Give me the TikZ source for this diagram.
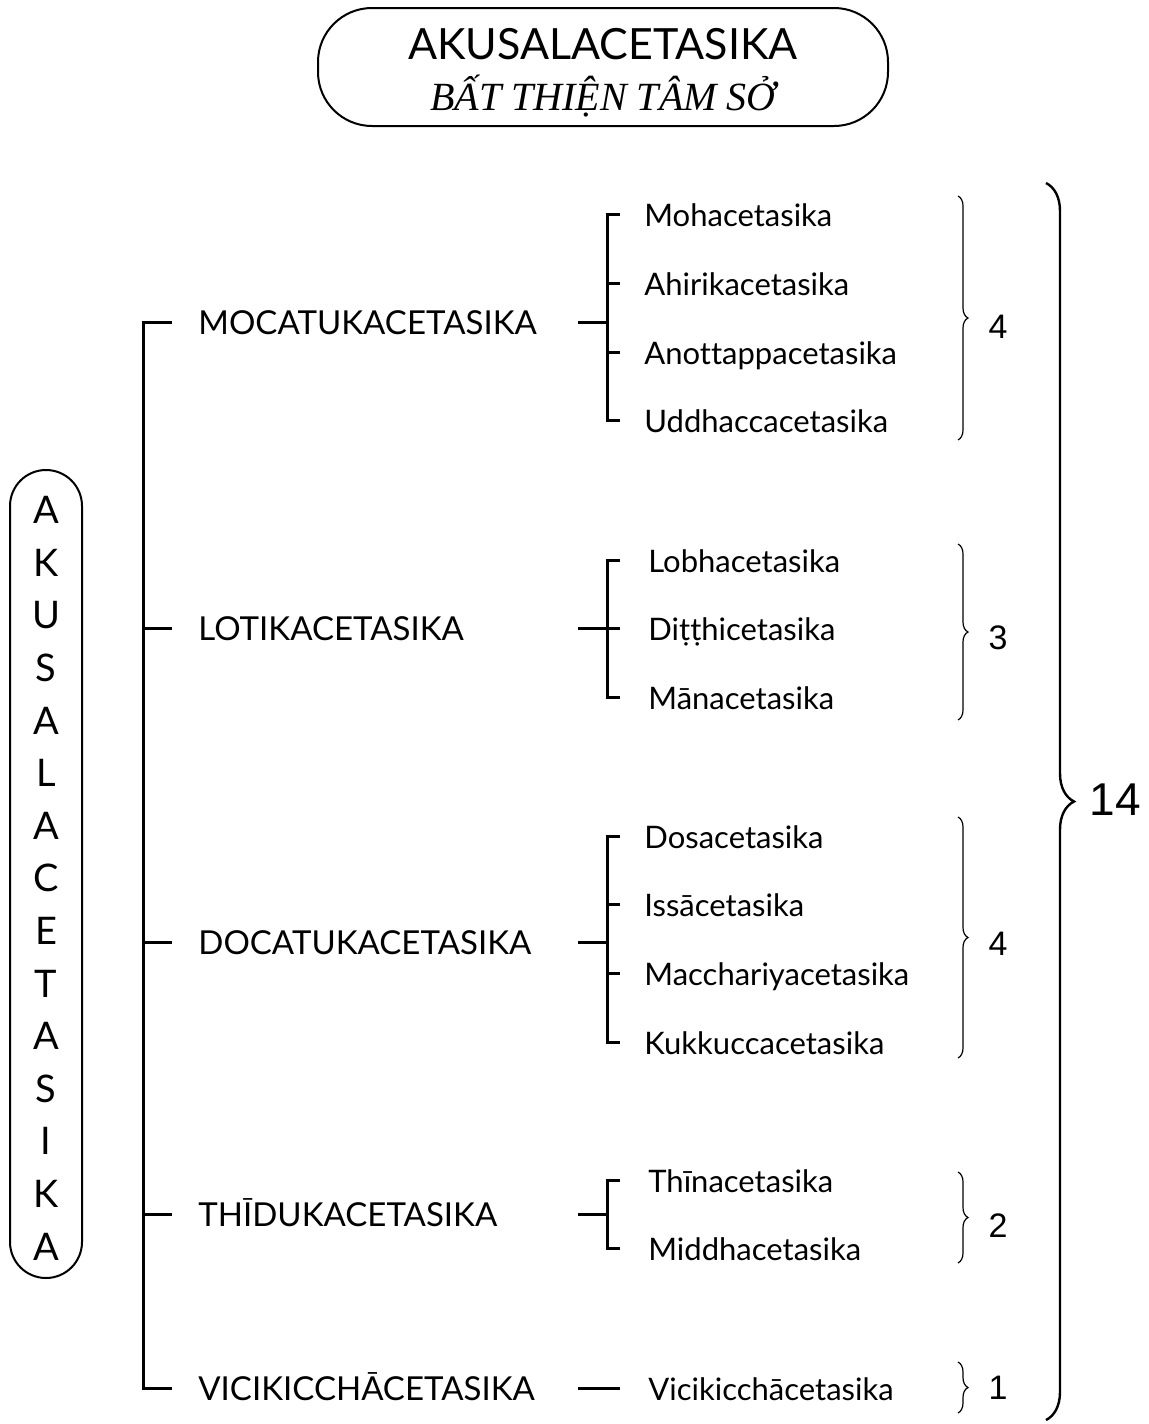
\documentclass[tikz,border=0pt]{standalone}
\usepackage{fontspec}
\setmainfont{Lato}[Ligatures=NoCommon]
\newfontfamily\numfont{Liberation Sans}
\newfontfamily\handfont{Liberation Serif}
\usetikzlibrary{positioning,decorations.pathreplacing}

\begin{document}
\begin{tikzpicture}[x=0.5pt,y=-0.5pt,
    line/.style={line width=1.5pt},
    head/.style={anchor=west,inner sep=0pt,text height=12pt,text depth=0pt,font=\fontsize{16.5}{18}\selectfont},
    item/.style={anchor=west,inner sep=0pt,text height=12.5pt,text depth=0pt,font=\fontsize{15.5}{17}\selectfont},
    num/.style={font=\numfont\fontsize{17}{19}\selectfont},
    grp/.style={decorate,decoration={brace,amplitude=5pt},line width=0.6pt},
    vletter/.style={font=\fontsize{19}{20}\selectfont,inner sep=0pt}]
  \useasboundingbox (0,0) rectangle (1149,1424);

  % title
  \node[draw,line width=1pt,rounded corners=27pt,minimum width=285pt,minimum height=59pt] (title) at (603,67) {};
  \node[font=\fontsize{21.5}{23}\selectfont] (ttl1) at (603,44) {AKUSALACETASIKA};
  \node[font=\handfont\itshape\fontsize{20}{22}\selectfont] (ttl2) at (603,96) {BẤT THIỆN TÂM SỞ};

  % vertical box
  \node[draw,line width=1pt,rounded corners=18pt,minimum width=36pt,minimum height=404pt] (side) at (46,874) {};
  \foreach \c [count=\i from 0] in {A,K,U,S,A,L,A,C,E,T,A,S,I,K,A}
    \node[vletter] (v\i) at (46,{510+52.6*\i}) {\c};

  % first level
  \node[head] (moca) at (198,322) {MOCATUKACETASIKA};
  \node[head] (loti) at (198,628) {LOTIKACETASIKA};
  \node[head] (doca) at (198,942) {DOCATUKACETASIKA};
  \node[head] (thid) at (198,1214) {THĪDUKACETASIKA};
  \node[head] (vici) at (198,1388) {VICIKICCHĀCETASIKA};
  \coordinate (s1) at (143,322); \coordinate (s2) at (143,628); \coordinate (s3) at (143,942);
  \coordinate (s4) at (143,1214); \coordinate (s5) at (143,1388);
  \draw[line] ([xshift=-13pt]moca.west) -- (s1) -- (s5) -- ([xshift=-13pt]vici.west);
  \draw[line] (s2) -- ([xshift=-13pt]loti.west);
  \draw[line] (s3) -- ([xshift=-13pt]doca.west);
  \draw[line] (s4) -- ([xshift=-13pt]thid.west);

  % second level
  \node[item] (moha) at (644,214) {Mohacetasika};
  \node[item] (ahir) at (644,283) {Ahirikacetasika};
  \node[item] (anot) at (644,352) {Anottappacetasika};
  \node[item] (uddh) at (644,420) {Uddhaccacetasika};
  \node[item] (lobh) at (648,560) {Lobhacetasika};
  \node[item] (ditt) at (648,628) {Diṭṭhicetasika};
  \node[item] (mana) at (648,697) {Mānacetasika};
  \node[item] (dosa) at (644,836) {Dosacetasika};
  \node[item] (issa) at (644,904) {Issācetasika};
  \node[item] (macc) at (644,973) {Macchariyacetasika};
  \node[item] (kukk) at (644,1042) {Kukkuccacetasika};
  \node[item] (thin) at (648,1180) {Thīnacetasika};
  \node[item] (midd) at (648,1248) {Middhacetasika};
  \node[item] (vic2) at (648,1388) {Vicikicchācetasika};

  \coordinate (r1) at (578,322); \coordinate (b1) at (607,322);
  \coordinate (r2) at (578,628);
  \coordinate (r3) at (578,942); \coordinate (b3) at (607,942);
  \coordinate (r4) at (578,1214); \coordinate (b4) at (607,1214);
  \coordinate (r5) at (578,1388);

  \draw[line] ([xshift=-12pt]moha.west) -| (607,420) -- ([xshift=-12pt]uddh.west);
  \draw[line] (607,283) -- ([xshift=-12pt]ahir.west); \draw[line] (607,352) -- ([xshift=-12pt]anot.west);
  \draw[line] (r1) -- (b1);
  \draw[line] ([xshift=-14pt]lobh.west) -| (607,697) -- ([xshift=-14pt]mana.west);
  \draw[line] (r2) -- ([xshift=-14pt]ditt.west);
  \draw[line] ([xshift=-12pt]dosa.west) -| (607,1042) -- ([xshift=-12pt]kukk.west);
  \draw[line] (607,904) -- ([xshift=-12pt]issa.west); \draw[line] (607,973) -- ([xshift=-12pt]macc.west);
  \draw[line] (r3) -- (b3);
  \draw[line] ([xshift=-14pt]thin.west) -| (607,1248) -- ([xshift=-14pt]midd.west);
  \draw[line] (r4) -- (b4);
  \draw[line] (r5) -- ([xshift=-14pt]vic2.west);

  % counts
  \draw[grp] (958,196) -- (958,440);  \node[num] (n1) at (998,327) {4};
  \draw[grp] (958,544) -- (958,720);  \node[num] (n2) at (998,638) {3};
  \draw[grp] (958,817) -- (958,1058); \node[num] (n3) at (998,944) {4};
  \draw[grp] (958,1172) -- (958,1263); \node[num] (n4) at (998,1226) {2};
  \draw[grp] (958,1362) -- (958,1413); \node[num] (n5) at (998,1388) {1};
  \draw[decorate,decoration={brace,amplitude=14pt},line width=1.2pt] (1046,183) -- (1046,1420);
  \node[font=\numfont\fontsize{23}{25}\selectfont] (total) at (1115,800) {14};
\end{tikzpicture}
\end{document}
